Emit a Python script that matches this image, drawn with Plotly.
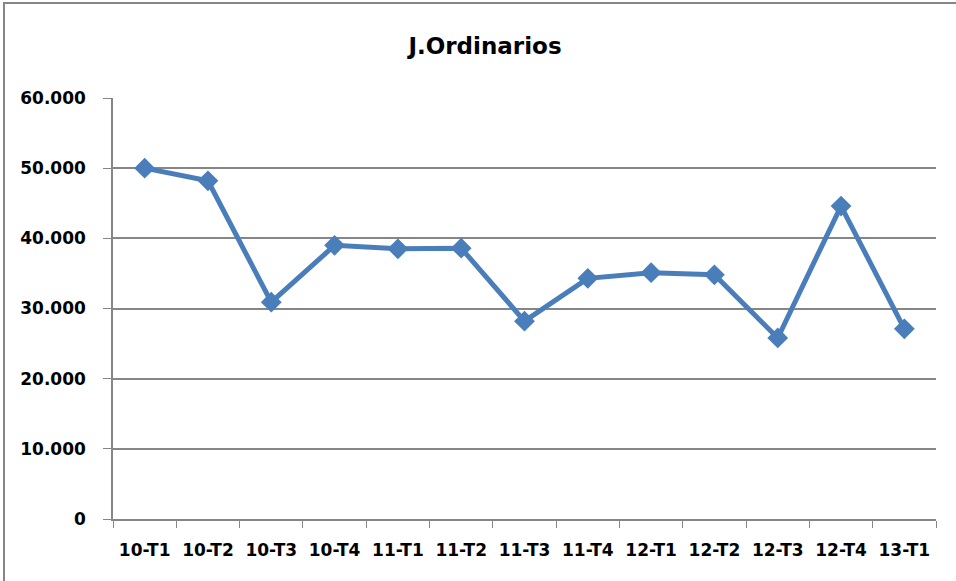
import plotly.graph_objects as go

categories = ["10-T1", "10-T2", "10-T3", "10-T4", "11-T1", "11-T2", "11-T3",
              "11-T4", "12-T1", "12-T2", "12-T3", "12-T4", "13-T1"]
values = [50000, 48200, 30900, 39000, 38500, 38600, 28200,
          34300, 35100, 34800, 25800, 44600, 27100]
y_ticks = [0, 10000, 20000, 30000, 40000, 50000, 60000]
y_tick_labels = ["0", "10.000", "20.000", "30.000", "40.000", "50.000", "60.000"]

FONT = "DejaVu Sans"
BLUE = "#4A7EBB"
GRID = "#868686"

fig = go.Figure()
fig.add_trace(go.Scatter(
    x=categories, y=values, mode="lines+markers",
    line=dict(color=BLUE, width=5),
    marker=dict(symbol="diamond", size=16, color=BLUE),
    showlegend=False, cliponaxis=False,
))

W, H = 956, 581
ml, mr, mt, mb = 113, 20, 98, 62
pw, ph = W - ml - mr, H - mt - mb

def px_to_paper_x(px):
    return (px - ml) / pw

def px_to_paper_y(py):
    return (H - mb - py) / ph

fig.update_layout(
    width=W, height=H,
    margin=dict(l=ml, r=mr, t=mt, b=mb),
    paper_bgcolor="white", plot_bgcolor="white",
    title=dict(text="<b>J.Ordinarios</b>", x=px_to_paper_x(485), xref="paper", xanchor="center",
               y=1 - 46 / H, yanchor="middle",
               font=dict(family=FONT, size=23, color="black")),
    xaxis=dict(
        type="category", tickson="boundaries", ticks="outside", ticklen=7,
        tickcolor=GRID, showline=True, linecolor=GRID, linewidth=1.5,
        showgrid=False, tickfont=dict(family=FONT, size=17, color="black", weight="bold"),
        range=[-0.5, len(categories) - 0.5], fixedrange=True,
        ticklabelstandoff=15,
    ),
    yaxis=dict(
        range=[0, 60000], tickvals=y_ticks, ticktext=y_tick_labels,
        ticks="outside", ticklen=8, tickcolor=GRID,
        showline=True, linecolor=GRID, linewidth=1.5,
        showgrid=True, gridcolor=GRID, gridwidth=1.5, zeroline=False,
        tickfont=dict(family=FONT, size=17, color="black", weight="bold"),
        ticklabelstandoff=14,
    ),
)

# outer chart border
fig.add_shape(type="rect", xref="paper", yref="paper",
              x0=px_to_paper_x(4), x1=px_to_paper_x(960),
              y0=px_to_paper_y(600), y1=px_to_paper_y(3),
              line=dict(color=GRID, width=2), fillcolor="rgba(0,0,0,0)", layer="below")

fig.write_html("out.html", config={"displayModeBar": False},
               post_script="document.body.style.margin='0';")
